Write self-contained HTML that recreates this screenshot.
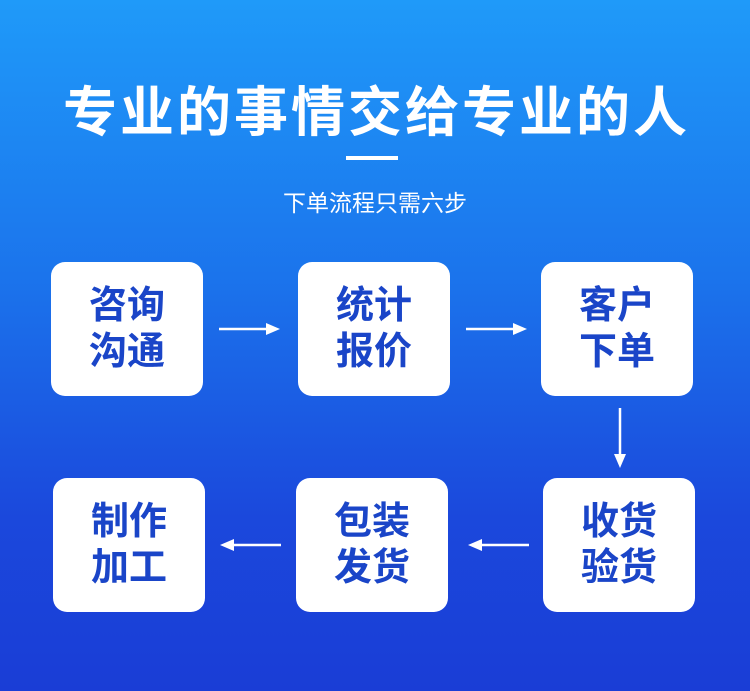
<!DOCTYPE html>
<html><head><meta charset="utf-8"><style>
body{margin:0;width:750px;height:691px;overflow:hidden;background:linear-gradient(180deg,#1f9af9 0%,#1b74ec 40%,#1b48dc 75%,#1a3dd6 100%);font-family:"Liberation Sans","Noto Sans CJK SC",sans-serif;position:relative}
.t{position:absolute;left:0;width:750px;text-align:center;color:#fff}
.b{position:absolute;width:152px;height:134px;background:#fff;border-radius:14px;color:#1a45c8;font-weight:bold;font-size:38px;line-height:46px;display:flex;align-items:center;justify-content:center;text-align:center}
svg{position:absolute;left:0;top:0}
</style></head><body>
<div class="t" style="top:68px;font-size:54px;font-weight:bold;letter-spacing:3px;text-indent:3px">专业的事情交给专业的人</div>
<div style="position:absolute;left:346px;top:156px;width:52px;height:4px;background:#fff"></div>
<div class="t" style="top:184px;font-size:23px">下单流程只需六步</div>
<div class="b" style="left:51px;top:262px">咨询<br>沟通</div>
<div class="b" style="left:298px;top:262px">统计<br>报价</div>
<div class="b" style="left:541px;top:262px">客户<br>下单</div>
<div class="b" style="left:53px;top:478px">制作<br>加工</div>
<div class="b" style="left:296px;top:478px">包装<br>发货</div>
<div class="b" style="left:543px;top:478px">收货<br>验货</div>
<svg width="750" height="691" fill="#fff" stroke="#fff">
<g stroke-width="2.5">
<line x1="219" y1="329" x2="268" y2="329"/><line x1="466" y1="329" x2="515" y2="329"/>
<line x1="620" y1="408" x2="620" y2="456"/>
<line x1="232" y1="545" x2="281" y2="545"/><line x1="480" y1="545" x2="529" y2="545"/>
</g>
<g stroke="none">
<polygon points="266,323 280,329 266,335"/><polygon points="513,323 527,329 513,335"/>
<polygon points="614,454 620,468 626,454"/>
<polygon points="234,539 220,545 234,551"/><polygon points="482,539 468,545 482,551"/>
</g>
</svg>
</body></html>
